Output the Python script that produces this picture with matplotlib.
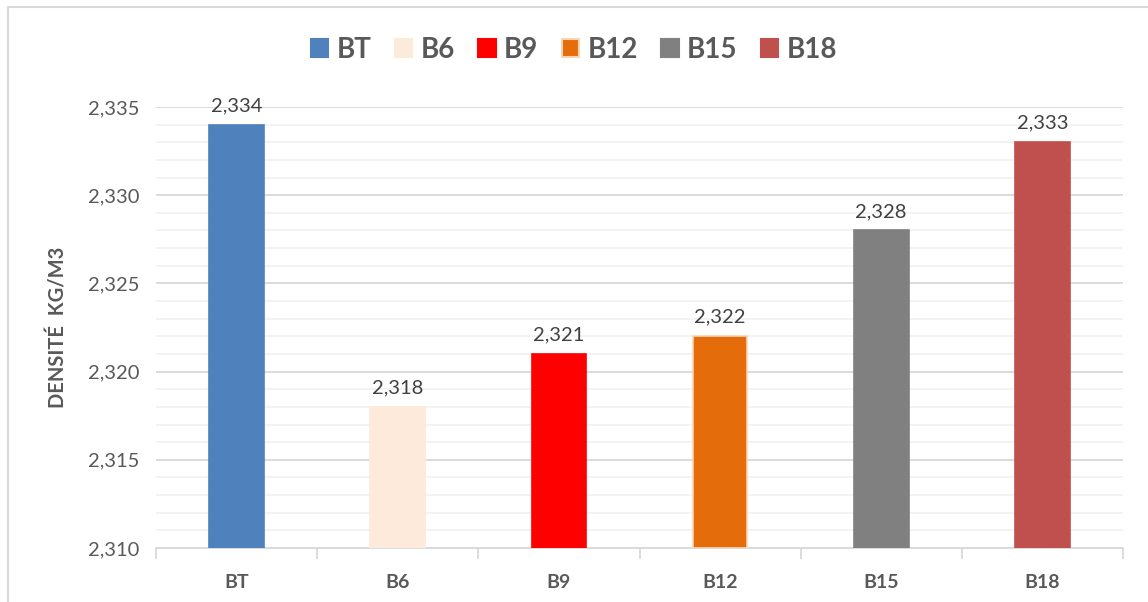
import matplotlib.pyplot as plt
from matplotlib.patches import Rectangle
from matplotlib.ticker import MultipleLocator, FuncFormatter

categories = ["BT", "B6", "B9", "B12", "B15", "B18"]
densite = [2.334, 2.318, 2.321, 2.322, 2.328, 2.333]
colors = ["#4F81BD", "#FDEADA", "#FF0000", "#E46C0A", "#808080", "#C0504D"]
edges = ["#4F81BD", "#FDEADA", "#FF0000", "#FBD4B4", "#808080", "#C0504D"]

plt.rcParams['font.family'] = ['Lato', 'DejaVu Sans']
text_color = "#595959"

fig = plt.figure(figsize=(11.48, 6.02), dpi=100)
ax = fig.add_axes([156 / 1148, 54 / 602, 967 / 1148, 441 / 602])

# cadre du graphique
fig.patches.append(Rectangle((8 / 1148, -0.05), 1.2, (602 - 7) / 602 + 0.05,
                             transform=fig.transFigure, fill=False,
                             edgecolor="#D9D9D9", linewidth=1.5))

x = list(range(len(categories)))
bars = ax.bar(x, [d - 2.310 for d in densite], bottom=2.310, width=0.34,
              color=colors, edgecolor=edges, linewidth=1.2, zorder=3)

for xi, d in zip(x, densite):
    ax.text(xi, d + 0.0006, f"{d:.3f}".replace(".", ","), ha="center",
            va="bottom", fontsize=14.5, color="#404040")

ax.set_xlim(-0.5, 5.5)
ax.set_ylim(2.310, 2.335)
ax.yaxis.set_major_locator(MultipleLocator(0.005))
ax.yaxis.set_minor_locator(MultipleLocator(0.001))
ax.yaxis.set_major_formatter(FuncFormatter(lambda v, p: f"{v:.3f}".replace(".", ",")))
ax.grid(axis="y", which="major", color="#D9D9D9", linewidth=1.3, zorder=0)
ax.grid(axis="y", which="minor", color="#F2F2F2", linewidth=1.3, zorder=0)
ax.tick_params(axis="y", which="both", length=0, labelsize=14.5,
               labelcolor=text_color, pad=12)

ax.set_xticks(x)
ax.set_xticklabels(categories, fontweight="bold", fontsize=14, color=text_color)
ax.tick_params(axis="x", which="major", length=0, pad=19)
ax.set_xticks([i - 0.5 for i in range(len(categories) + 1)], minor=True)
ax.tick_params(axis="x", which="minor", length=8, color="#D9D9D9", width=1.3)

for side in ["top", "right", "left"]:
    ax.spines[side].set_visible(False)
ax.spines["bottom"].set_color("#D9D9D9")
ax.spines["bottom"].set_linewidth(1.3)

ax.set_ylabel("DENSITÉ  KG/M3", fontweight="bold", fontsize=14.5,
              color=text_color, labelpad=14)

handles = [Rectangle((0, 0), 1, 1, facecolor=c, edgecolor=e, linewidth=1.5)
           for c, e in zip(colors, edges)]
leg = fig.legend(handles, categories, loc="center", bbox_to_anchor=(0.5, 1 - 50 / 602),
                 ncol=6, frameon=False, handlelength=0.62, handleheight=0.62,
                 handletextpad=0.3, columnspacing=0.85,
                 prop={"weight": "bold", "size": 20})
for t in leg.get_texts():
    t.set_color(text_color)

fig.savefig("out.png", dpi=100)
